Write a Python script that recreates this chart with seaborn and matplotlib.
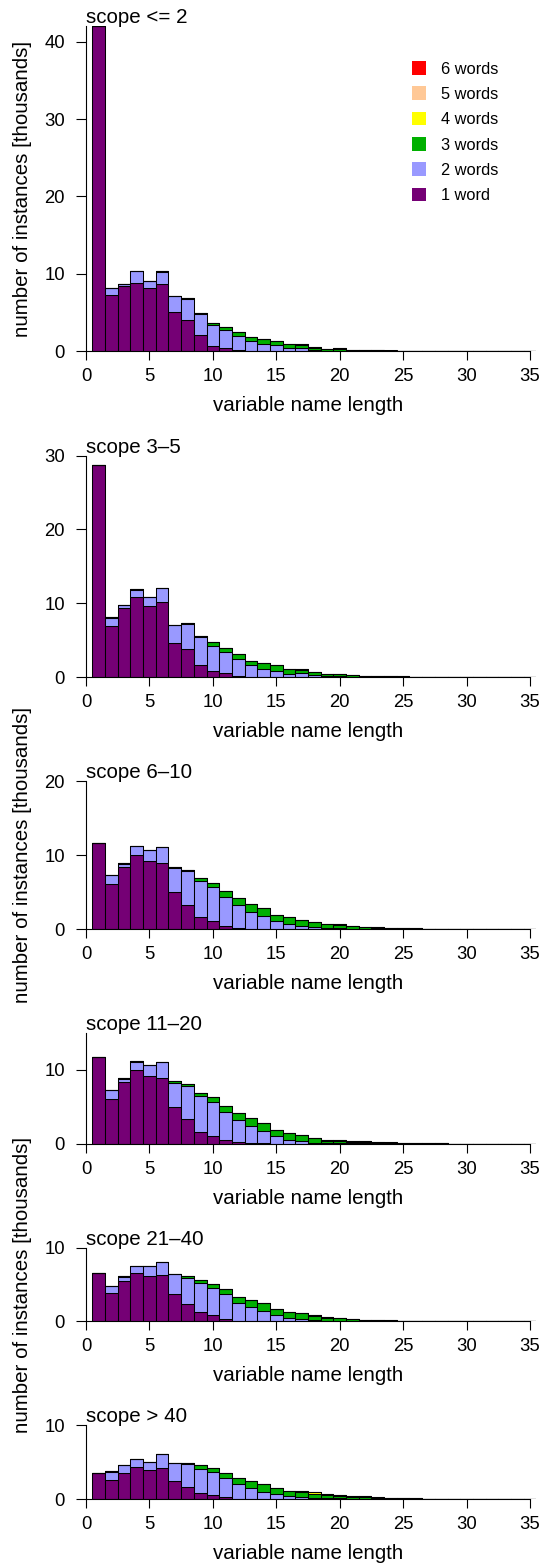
import numpy as np
import pandas as pd
import matplotlib
matplotlib.use("Agg")
import matplotlib.pyplot as plt
import seaborn as sns

# values in thousands, index 0 = name length 1
words = ["6 words", "5 words", "4 words", "3 words", "2 words", "1 word"]
colors = ["#FF0000", "#FFC896", "#FFFF00", "#00B000", "#9999FF", "#750075"]
scopes = ["scope <= 2", "scope 3–5", "scope 6–10", "scope 11–20", "scope 21–40", "scope > 40"]

p1_w1 = [42.0, 7.3, 8.4, 8.8, 8.2, 8.7, 5.0, 3.95, 2.1, 0.68, 0.38, 0.12, 0.05, 0.03, 0.02, 0.01, 0.01]
p1_w2 = [0, 0.85, 0.25, 1.55, 0.85, 1.55, 2.05, 2.8, 2.75, 2.72, 2.29, 1.8, 1.28, 0.94, 0.71, 0.38,
         0.38, 0.12, 0.06, 0.05, 0.03, 0.02, 0.01]
p1_w3 = [0, 0.05, 0.05, 0.05, 0.05, 0.05, 0.05, 0.05, 0.05, 0.2, 0.39, 0.49, 0.5, 0.53, 0.61, 0.47,
         0.45, 0.33, 0.22, 0.26, 0.14, 0.09, 0.06, 0.05, 0.04, 0.03, 0.02, 0.01]
p1_w4 = [0] * 14 + [0.01, 0.02, 0.05, 0.02, 0.02, 0.02, 0.01, 0.01, 0.01, 0.01, 0.01]
p1_w5 = [0] * 19 + [0.01, 0.01, 0.01, 0.01]
p1_w6 = [0] * 23 + [0.01]

p2_w1 = [28.8, 6.9, 9.35, 10.9, 9.67, 10.1, 4.65, 3.84, 1.6, 0.85, 0.52, 0.12, 0.05, 0.03, 0.02, 0.01]
p2_w2 = [0, 1.1, 0.35, 0.9, 1.13, 1.9, 2.4, 3.36, 3.8, 3.4, 2.9, 2.33, 1.53, 1.05, 0.79, 0.44,
         0.49, 0.22, 0.1, 0.08, 0.05, 0.03, 0.02, 0.01]
p2_w3 = [0, 0.1, 0.1, 0.1, 0.1, 0.1, 0.05, 0.1, 0.22, 0.43, 0.56, 0.73, 0.64, 0.88, 0.77, 0.57,
         0.52, 0.47, 0.29, 0.34, 0.25, 0.14, 0.12, 0.08, 0.06, 0.05, 0.04, 0.03, 0.02, 0.02, 0.01]
p2_w4 = [0] * 15 + [0.02, 0.02, 0.03, 0.02, 0.03, 0.02, 0.01, 0.01, 0.01, 0.01]
p2_w5 = [0] * 19 + [0.01, 0.01, 0.01, 0.01]
p2_w6 = [0] * 23 + [0.01]

p3_w1 = [11.67, 6.08, 8.38, 9.95, 9.14, 8.87, 4.95, 3.29, 1.58, 1.04, 0.45, 0.18, 0.05, 0.03, 0.02, 0.01]
p3_w2 = [0, 1.22, 0.42, 1.25, 1.51, 2.18, 3.35, 4.51, 4.86, 4.68, 3.83, 3.06, 2.29, 1.68, 1.02, 0.67,
         0.4, 0.26, 0.12, 0.08, 0.05, 0.03, 0.02, 0.01]
p3_w3 = [0, 0.04, 0.07, 0.06, 0.05, 0.05, 0.08, 0.2, 0.41, 0.54, 0.9, 0.99, 1.04, 1.17, 0.9, 0.97,
         0.78, 0.68, 0.56, 0.5, 0.33, 0.24, 0.18, 0.12, 0.08, 0.06, 0.04, 0.03, 0.02, 0.02]
p3_w4 = [0] * 15 + [0.02, 0.03, 0.04, 0.04, 0.05, 0.04, 0.03, 0.02, 0.02, 0.02, 0.01, 0.01, 0.01]
p3_w5 = [0] * 18 + [0.01, 0.01, 0.01, 0.01, 0.01]
p3_w6 = [0] * 22 + [0.01, 0.01]

p4_w1 = [11.67, 6.04, 8.33, 9.9, 9.14, 8.87, 4.95, 3.29, 1.53, 1.04, 0.47, 0.2, 0.06, 0.03, 0.02, 0.01]
p4_w2 = [0, 1.21, 0.47, 1.2, 1.44, 2.18, 3.29, 4.46, 4.87, 4.64, 3.78, 3.05, 2.28, 1.66, 1.0, 0.53,
         0.35, 0.15, 0.1, 0.07, 0.05, 0.03, 0.02, 0.01]
p4_w3 = [0, 0.05, 0.07, 0.07, 0.05, 0.05, 0.23, 0.31, 0.45, 0.67, 0.86, 0.87, 1.1, 1.11, 0.88, 0.95,
         0.85, 0.61, 0.33, 0.36, 0.15, 0.23, 0.11, 0.11, 0.06, 0.04, 0.03, 0.03, 0.02, 0.02, 0.01]
p4_w4 = [0] * 15 + [0.02, 0.03, 0.07, 0.1, 0.08, 0.1, 0.07, 0.06, 0.04, 0.03, 0.03, 0.02, 0.01]
p4_w5 = [0] * 18 + [0.01, 0.01, 0.02, 0.01, 0.01, 0.01]
p4_w6 = [0] * 21 + [0.01, 0.01, 0.01]

p5_w1 = [6.6, 3.85, 5.47, 6.5, 6.2, 6.33, 3.67, 2.3, 1.22, 0.81, 0.32, 0.1, 0.04, 0.03, 0.02, 0.01]
p5_w2 = [0, 0.95, 0.53, 0.95, 1.3, 1.67, 2.75, 3.63, 3.94, 3.71, 3.35, 2.39, 1.91, 1.33, 0.79, 0.4,
         0.31, 0.18, 0.1, 0.07, 0.05, 0.03, 0.02, 0.01]
p5_w3 = [0, 0.04, 0.1, 0.05, 0.05, 0.05, 0.05, 0.27, 0.5, 0.58, 0.76, 0.81, 0.9, 1.08, 0.91, 0.88,
         0.83, 0.6, 0.37, 0.33, 0.2, 0.16, 0.1, 0.08, 0.06, 0.04, 0.04, 0.02, 0.02, 0.02, 0.01]
p5_w4 = [0] * 15 + [0.02, 0.03, 0.06, 0.08, 0.07, 0.05, 0.04, 0.04, 0.03, 0.02, 0.02, 0.01]
p5_w5 = [0] * 18 + [0.01, 0.01, 0.01, 0.01, 0.01]
p5_w6 = [0] * 22 + [0.01, 0.01]

p6_w1 = [3.56, 2.57, 3.47, 4.37, 3.92, 4.14, 2.39, 1.58, 0.81, 0.5, 0.23, 0.06, 0.03, 0.02, 0.01]
p6_w2 = [0, 1.13, 1.08, 1.03, 1.03, 1.94, 2.46, 3.17, 3.19, 3.2, 2.61, 1.94, 1.48, 0.88, 0.62, 0.39,
         0.23, 0.15, 0.1, 0.07, 0.05, 0.03, 0.02, 0.01]
p6_w3 = [0, 0.04, 0.05, 0.05, 0.05, 0.05, 0.05, 0.07, 0.55, 0.53, 0.74, 0.9, 0.94, 1.06, 0.81, 0.7,
         0.65, 0.55, 0.46, 0.35, 0.24, 0.26, 0.13, 0.1, 0.07, 0.05, 0.04, 0.03, 0.02, 0.01]
p6_w4 = [0] * 15 + [0.03, 0.2, 0.2, 0.12, 0.08, 0.07, 0.07, 0.05, 0.04, 0.03, 0.03, 0.02, 0.02, 0.01, 0.01]
p6_w5 = [0] * 17 + [0.01, 0.02, 0.02, 0.01, 0.01, 0.01, 0.01]
p6_w6 = [0] * 20 + [0.01, 0.01, 0.01]

panels = [
    [p1_w6, p1_w5, p1_w4, p1_w3, p1_w2, p1_w1],
    [p2_w6, p2_w5, p2_w4, p2_w3, p2_w2, p2_w1],
    [p3_w6, p3_w5, p3_w4, p3_w3, p3_w2, p3_w1],
    [p4_w6, p4_w5, p4_w4, p4_w3, p4_w2, p4_w1],
    [p5_w6, p5_w5, p5_w4, p5_w3, p5_w2, p5_w1],
    [p6_w6, p6_w5, p6_w4, p6_w3, p6_w2, p6_w1],
]
ymax = [42, 30, 20, 15, 10, 10]
lengths = np.arange(1, 36)

# layout in pixels: (top, bottom) of each plot region
boxes = [(26.3, 351), (455.7, 677), (781, 929), (1032.7, 1143.7), (1247.7, 1321.3), (1425, 1499)]
W, H = 540, 1564
LEFT, XW = 86, 35.5 * 12.686

sns.set_style("ticks")
plt.rcParams["font.family"] = ["Liberation Sans", "DejaVu Sans"]
plt.rcParams["text.color"] = "black"
plt.rcParams["axes.labelcolor"] = "black"
plt.rcParams["xtick.color"] = "black"
plt.rcParams["ytick.color"] = "black"
plt.rcParams["legend.labelcolor"] = "black"

fig = plt.figure(figsize=(W / 100, H / 100), dpi=100)


def fx(px):
    return px / W


def fy(py):
    return 1 - py / H


for i, (top, bot) in enumerate(boxes):
    ax = fig.add_axes([fx(LEFT), fy(bot), XW / W, (bot - top) / H])
    rows = []
    for name, vals in zip(words, panels[i]):
        vals = list(vals) + [0] * (35 - len(vals))
        for L, v in zip(lengths, vals):
            rows.append((L, name, v))
    df = pd.DataFrame(rows, columns=["length", "words", "count"])

    sns.histplot(data=df, x="length", weights="count", hue="words", hue_order=words,
                 palette=dict(zip(words, colors)), multiple="stack", discrete=True,
                 alpha=1, edgecolor="black", linewidth=0.75, ax=ax, legend=(i == 0))

    ax.set_xlim(0, 35.5)
    ax.set_ylim(0, ymax[i])
    ax.set_xticks(range(0, 36, 5))
    ax.set_yticks(range(0, ymax[i] + 1, 10))
    ax.set_xlabel("")
    ax.set_ylabel("")
    ax.spines[["top", "right"]].set_visible(False)
    for s in ["left", "bottom"]:
        ax.spines[s].set_linewidth(0.8)
        ax.spines[s].set_color("black")
    ax.spines["bottom"].set_bounds(0, 35)
    ax.tick_params(axis="x", length=6.5, width=0.8, pad=5.8, labelsize=13.3,
                   color="black", labelcolor="black")
    ax.tick_params(axis="y", length=7.2, width=0.8, pad=7.9, labelsize=13.3,
                   color="black", labelcolor="black")

    fig.text(fx(LEFT), fy(top - 3), scopes[i], ha="left", va="baseline", fontsize=14.8,
             color="black")
    fig.text(fx(308.5), fy(bot + 60), "variable name length", ha="center", va="baseline",
             fontsize=14.8, color="black")
    if i in (0, 2, 4):
        fig.text(fx(23), fy((top + bot) / 2), "number of instances [thousands]", rotation=90,
                 ha="center", va="center", fontsize=14.8, color="black")

    if i == 0:
        sns.move_legend(ax, "upper left", bbox_to_anchor=(fx(412), fy(61)),
                        bbox_transform=fig.transFigure, frameon=False, title=None,
                        fontsize=11.8, handlelength=0.88, handleheight=0.91,
                        handletextpad=0.87, labelspacing=0.6, borderpad=0, borderaxespad=0,
                        labelcolor="black")
        for h in ax.get_legend().legend_handles:
            h.set_edgecolor("none")

fig.savefig("out.png", dpi=100)
